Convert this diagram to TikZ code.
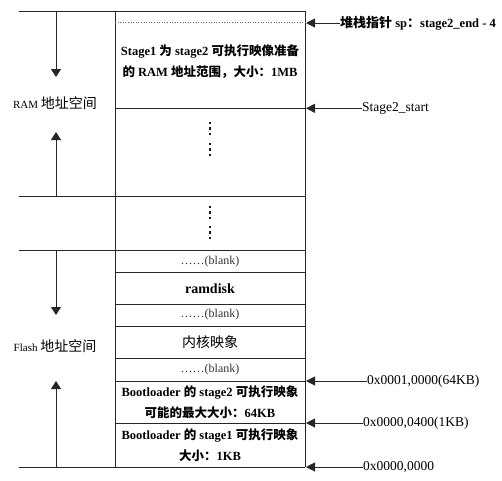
\documentclass[tikz,border=0pt]{standalone}
\usepackage{fontspec}
\setmainfont{Liberation Serif}
\newfontfamily\cjkfont{Noto Sans CJK SC}
\newcommand{\zhs}[2]{{\cjkfont\fontsize{#1}{#1}\selectfont #2}}
\usetikzlibrary{arrows.meta}
\tikzset{
  frame/.style={draw=black!85, line width=1pt},
  sep/.style={draw=black!85, line width=1pt},
  leftarrow/.style={draw=black!85, line width=1pt, -{Triangle[length=8pt,width=10pt]}},
  ptrarrow/.style={draw=black!85, line width=1pt, -{Triangle[length=9pt,width=9pt]}},
  sidelabel/.style={font=\fontsize{11}{13}\selectfont, inner sep=0pt},
  addrlabel/.style={font=\fontsize{13.5}{15}\selectfont, inner sep=0pt, anchor=west},
  boxtext/.style={font=\bfseries\fontsize{12.5}{21}\selectfont, align=center, inner sep=0pt},
  blanktext/.style={font=\fontsize{12}{13}\selectfont, text=black!80, inner sep=0pt},
  dotsq/.style={fill=black!90},
}
\begin{document}
\begin{tikzpicture}[x=1pt,y=-1pt]
\useasboundingbox (0,0) rectangle (502,480);
% box
\draw[frame] (115,11) -- (115,467);
\draw[frame] (305,11) -- (305,467);
% long separators
\draw[sep] (19,11) -- (305,11);
\draw[sep] (19,196) -- (305,196);
\draw[sep] (19,250) -- (305,250);
\draw[sep] (19,467) -- (305,467);
% inner separators
\draw[draw=black!60, line width=0.6pt, dotted] (115,22.7) -- (305,22.7);
\foreach \yy in {108.3,272,304,326,358,381,423}
  \draw[sep] (115,\yy) -- (305,\yy);
% left arrows
\coordinate (ramtop) at (56,11);
\coordinate (ramtip) at (56,77);
\coordinate (rambot) at (56,196);
\coordinate (ramtipb) at (56,132);
\coordinate (fltop) at (56,250);
\coordinate (fltip) at (56,315);
\coordinate (flbot) at (56,467);
\coordinate (fltipb) at (56,381);
\draw[leftarrow] (ramtop) -- (ramtip);
\draw[leftarrow] (rambot) -- (ramtipb);
\draw[leftarrow] (fltop) -- (fltip);
\draw[leftarrow] (flbot) -- (fltipb);
\node[sidelabel] (ramlab) at (55,103) {RAM \zhs{14}{地址空间}};
\node[sidelabel] (fllab) at (55,346) {Flash \zhs{14}{地址空间}};
% box contents
\node[boxtext] (s1ram) at (210,62) {Stage1 \zhs{12.5}{为} stage2 \zhs{12.5}{可执行映像准备}\\\zhs{12.5}{的} RAM \zhs{12.5}{地址范围，大小：}1MB};
\foreach \yy in {123,128.5,134,144,149.5,155,207,212.5,218,227,232.5,238}
  \fill[dotsq] (209,\yy-1.1) rectangle (211.2,\yy+1.1);
\node[blanktext] (b1) at (210,262) {……(blank)};
\node[font=\bfseries\fontsize{14}{15}\selectfont, inner sep=0pt] (ramdisk) at (210,288.5) {ramdisk};
\node[blanktext] (b2) at (210,315) {……(blank)};
\node[inner sep=0pt] (kernel) at (210,342) {\zhs{14}{内核映象}};
\node[blanktext] (b3) at (210,370) {……(blank)};
\node[boxtext] (bl2) at (210,402.5) {Bootloader \zhs{12.5}{的} stage2 \zhs{12.5}{可执行映象}\\\zhs{12.5}{可能的最大大小：}64KB};
\node[boxtext] (bl1) at (210,445.5) {Bootloader \zhs{12.5}{的} stage1 \zhs{12.5}{可执行映象}\\\zhs{12.5}{大小：}1KB};
% right pointers
\coordinate (psp) at (306,23);
\coordinate (pst) at (306,108.3);
\coordinate (p64) at (306,381);
\coordinate (p1k) at (306,423);
\coordinate (p0) at (306,467);
\node[addrlabel, font=\bfseries\fontsize{12.5}{14}\selectfont] (sp) at (340,23) {\zhs{13}{堆栈指针} sp\zhs{13}{：}stage2\_end - 4};
\node[addrlabel] (st) at (362,108.3) {Stage2\_start};
\node[addrlabel] (a64) at (367,381) {0x0001,0000(64KB)};
\node[addrlabel] (a1k) at (363,423) {0x0000,0400(1KB)};
\node[addrlabel] (a0) at (363,467) {0x0000,0000};
\draw[ptrarrow] (sp.west) -- (psp);
\draw[ptrarrow] (st.west) -- (pst);
\draw[ptrarrow] (a64.west) -- (p64);
\draw[ptrarrow] (a1k.west) -- (p1k);
\draw[ptrarrow] (a0.west) -- (p0);
\end{tikzpicture}
\end{document}
